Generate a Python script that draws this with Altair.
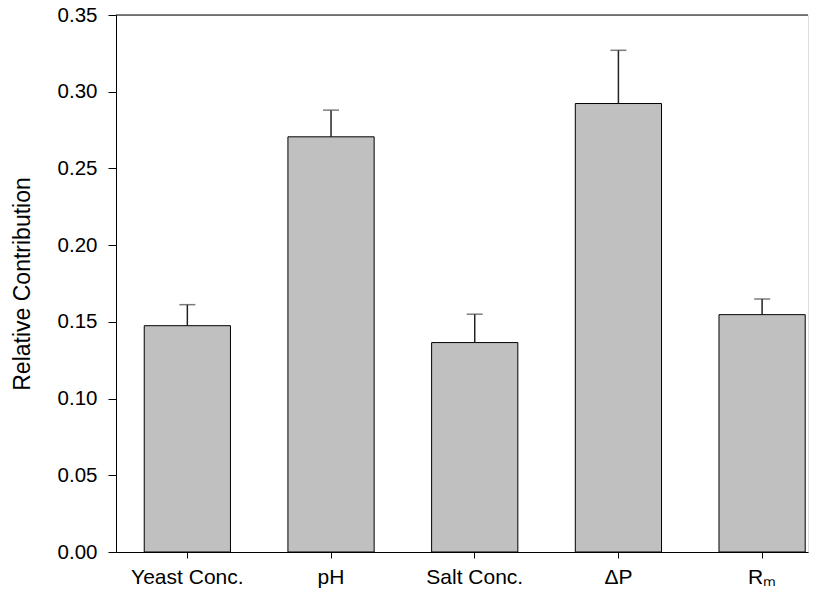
import altair as alt
import pandas as pd

categories = ["Yeast Conc.", "pH", "Salt Conc.", "ΔP", "Rₘ"]
values = [0.1475, 0.2706, 0.1365, 0.2923, 0.1547]
upper = [0.1612, 0.2880, 0.1550, 0.3270, 0.1649]
y_ticks = [0.0, 0.05, 0.10, 0.15, 0.20, 0.25, 0.30, 0.35]

df = pd.DataFrame({"cat": categories, "val": values, "up": upper})

FONT = "Liberation Sans"

xscale = alt.Scale(domain=categories, paddingInner=0.4, paddingOuter=0.108, align=0.91)
yscale = alt.Scale(domain=[0, 0.35], nice=False, zero=True)

x_enc = alt.X("cat:N", scale=xscale, sort=categories, title=None,
              axis=alt.Axis(labelAngle=0, labelFontSize=21, labelFont=FONT, labelColor="black",
                            tickSize=6, tickColor="black", domainColor="black",
                            labelPadding=8, grid=False))
y_enc = alt.Y("val:Q", scale=yscale, title="Relative Contribution",
              axis=alt.Axis(values=y_ticks, format=".2f", labelFontSize=20.5, labelFont=FONT,
                            labelColor="black", tickSize=8, tickColor="black",
                            domainColor="black", labelPadding=11, grid=False,
                            titleFont=FONT, titleFontSize=23, titleFontWeight="normal",
                            titleColor="black", titlePadding=23))

bars = alt.Chart(df).mark_bar(color="#c0c0c0", stroke="black", strokeWidth=1).encode(
    x=x_enc, y=y_enc
)

err = alt.Chart(df).mark_rule(color="#222222", strokeWidth=1.5).encode(
    x=alt.X("cat:N", scale=xscale, sort=categories),
    y=alt.Y("val:Q", scale=yscale),
    y2="up:Q",
)

caps = alt.Chart(df).mark_tick(color="#444444", thickness=1.5, size=16).encode(
    x=alt.X("cat:N", scale=xscale, sort=categories),
    y=alt.Y("up:Q", scale=yscale),
)

top = alt.Chart(pd.DataFrame({"y": [0.35]})).mark_rule(color="black", strokeWidth=1).encode(
    y=alt.Y("y:Q", scale=yscale)
)

chart = alt.layer(bars, err, caps, top).properties(
    width=692, height=537,
    autosize=alt.AutoSizeParams(type="none"),
    padding={"left": 116, "top": 15, "right": 16, "bottom": 44},
).configure_view(stroke=None).configure(background="white")

chart.save("out.html", embed_options={"renderer": "svg", "actions": False})
